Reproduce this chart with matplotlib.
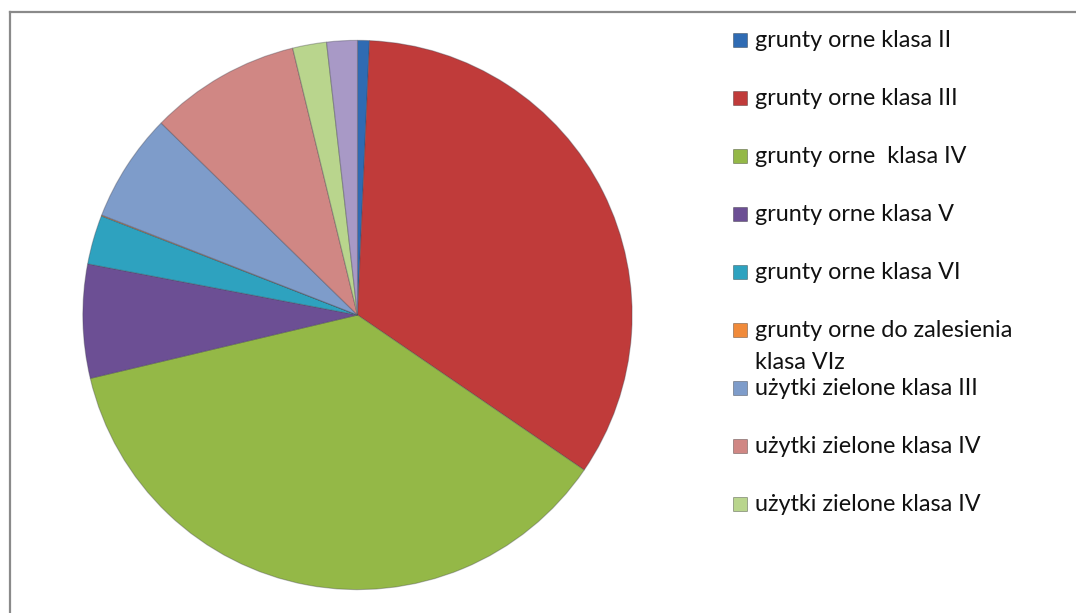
import matplotlib
matplotlib.use("Agg")
import matplotlib.pyplot as plt
from matplotlib.lines import Line2D
from matplotlib.patches import Rectangle

# ── Dane (udział %) ────────────────────────────────────────────────────────────
labels = [
    "grunty orne klasa II",
    "grunty orne klasa III",
    "grunty orne  klasa IV",
    "grunty orne klasa V",
    "grunty orne klasa VI",
    "grunty orne do zalesienia\nklasa VIz",
    "użytki zielone klasa III",
    "użytki zielone klasa IV",
    "użytki zielone klasa IV",
    "użytki zielone klasa V",   # 10. wycinek - poza widoczną legendą
]
values = [0.7, 33.9, 36.8, 6.7, 2.9, 0.05, 6.4, 8.9, 2.0, 1.8]
n_legend = 9

colors = [
    "#2f6bb3", "#c03b3a", "#94b847", "#6c4f94", "#2ea2bf",
    "#f08a3a", "#7e9cca", "#d08784", "#b9d58d", "#a899c6",
]

W, H = 1076, 613
fig = plt.figure(figsize=(W / 100, H / 100), dpi=100)
fig.patch.set_facecolor("white")

# pie axes: center (357.5, 315) px, radius ~276 px
cx, cy, r = 357.5, 315, 276
ax = fig.add_axes([(cx - r) / W, (H - cy - r) / H, 2 * r / W, 2 * r / H])
ax.pie(values, colors=colors, startangle=90, counterclock=False, radius=1,
       wedgeprops={"edgecolor": (0.25, 0.25, 0.3, 0.35), "linewidth": 0.8})
ax.set_xlim(-1.005, 1.005)
ax.set_ylim(-1.005, 1.005)
ax.set_aspect("equal")
ax.axis("off")

# ── Legenda (ręcznie, jak w Excelu) ───────────────────────────────────────────
y0, dy = 40, 58
for i in range(n_legend):
    y = y0 + i * dy
    fig.patches.append(Rectangle((733 / W, 1 - (y + 7) / H), 14 / W, 14 / H,
                                 transform=fig.transFigure, facecolor=colors[i],
                                 edgecolor=(0, 0, 0, 0.35), linewidth=0.6))
    fig.text(755 / W, 1 - (y - 10) / H, labels[i], ha="left", va="top",
             fontsize=16.8, family="Lato", color="#111111", linespacing=1.65)

# ramka wykresu (widoczna tylko góra i lewa krawędź)
fig.add_artist(Line2D([10 / W, 1], [1 - 11.5 / H] * 2, transform=fig.transFigure,
                      color="#8a8a8a", linewidth=1.6))
fig.add_artist(Line2D([10 / W] * 2, [0, 1 - 11.5 / H], transform=fig.transFigure,
                      color="#8a8a8a", linewidth=1.6))

fig.savefig("out.png", dpi=100, facecolor="white")
